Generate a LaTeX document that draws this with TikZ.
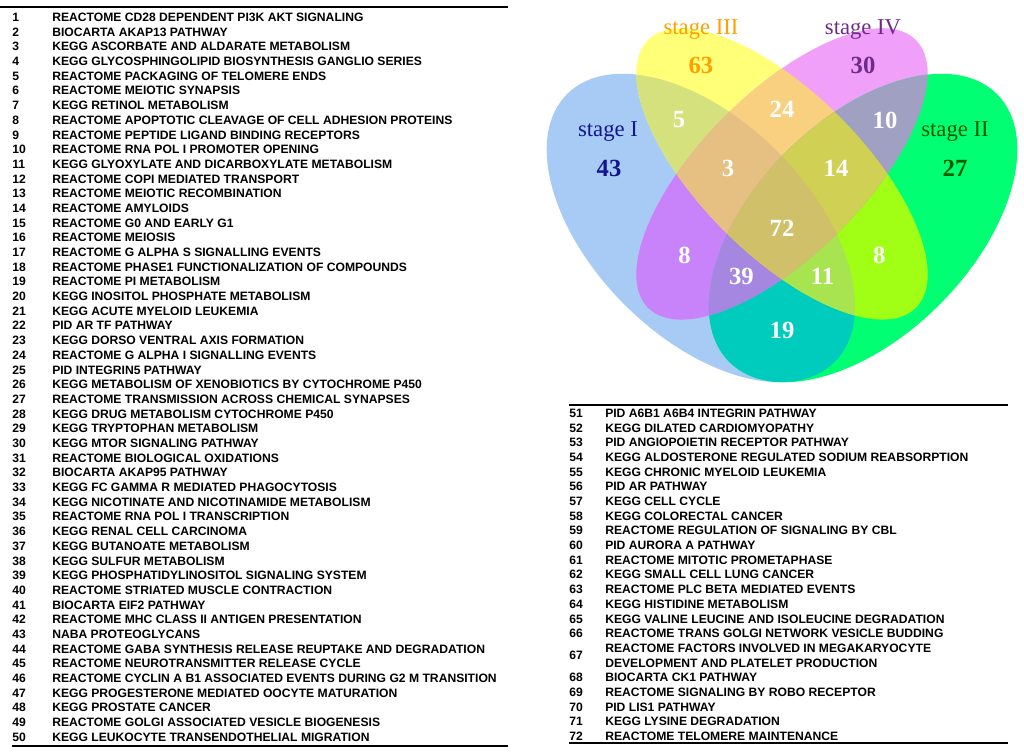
\documentclass[tikz,border=0pt]{standalone}
\usepackage{fontspec}
\setmainfont{Liberation Serif}
\newfontfamily\listfont{Liberation Sans}
\definecolor{cBl}{HTML}{A8CBF5}
\definecolor{cYe}{HTML}{FFFF78}
\definecolor{cPu}{HTML}{F0A0F8}
\definecolor{cGr}{HTML}{00FF72}
\definecolor{cBY}{HTML}{D4E17D}
\definecolor{cBP}{HTML}{C882FA}
\definecolor{cBG}{HTML}{00CCBE}
\definecolor{cYP}{HTML}{F9D080}
\definecolor{cYG}{HTML}{A0FF14}
\definecolor{cPG}{HTML}{A0A0C3}
\definecolor{cBYP}{HTML}{E6C082}
\definecolor{cBYG}{HTML}{A8E450}
\definecolor{cBPG}{HTML}{A587E1}
\definecolor{cYPG}{HTML}{D0D055}
\definecolor{cAll}{HTML}{D0C069}
\definecolor{labI}{HTML}{14148C}
\definecolor{labII}{HTML}{005A00}
\definecolor{labIII}{HTML}{FFA000}
\definecolor{labIV}{HTML}{6E2A8C}
\newcommand{\shB}{(700.9,228) ellipse [x radius=142pt, y radius=81.15pt]}
\newcommand{\shY}{(782,173.9) ellipse [x radius=142pt, y radius=60.86pt]}
\newcommand{\shP}{(782,173.9) ellipse [x radius=142pt, y radius=60.86pt]}
\newcommand{\shG}{(863.1,228) ellipse [x radius=142pt, y radius=81.15pt]}
\tikzset{
  rB/.style={rotate around={-45:(700.9,228)}},
  rY/.style={rotate around={-45:(782,173.9)}},
  rP/.style={rotate around={45:(782,173.9)}},
  rG/.style={rotate around={45:(863.1,228)}},
  lst/.style={font=\listfont\bfseries\fontsize{9.1}{11}\selectfont, anchor=base west, inner sep=0pt},
  rule/.style={line width=1.3pt},
  vnum/.style={font=\bfseries\fontsize{18.5}{20}\selectfont, text=white, inner sep=0pt},
  slab/.style={font=\fontsize{17}{18}\selectfont, anchor=base, inner sep=0pt},
  snum/.style={font=\bfseries\fontsize{18.5}{20}\selectfont, inner sep=0pt}
}
\begin{document}
\begin{tikzpicture}[x=0.75pt,y=-0.75pt]
\useasboundingbox (0,0) rectangle (1024,755);
% ---------- Venn regions ----------
\fill[cBl,rB] \shB;
\fill[cYe,rY] \shY;
\fill[cPu,rP] \shP;
\fill[cGr,rG] \shG;
% pairs
\begin{scope}\clip[rB] \shB; \fill[cBY,rY] \shY; \end{scope}
\begin{scope}\clip[rB] \shB; \fill[cBP,rP] \shP; \end{scope}
\begin{scope}\clip[rB] \shB; \fill[cBG,rG] \shG; \end{scope}
\begin{scope}\clip[rY] \shY; \fill[cYP,rP] \shP; \end{scope}
\begin{scope}\clip[rY] \shY; \fill[cYG,rG] \shG; \end{scope}
\begin{scope}\clip[rP] \shP; \fill[cPG,rG] \shG; \end{scope}
% triples
\begin{scope}\clip[rB] \shB; \clip[rY] \shY; \fill[cBYP,rP] \shP; \end{scope}
\begin{scope}\clip[rB] \shB; \clip[rY] \shY; \fill[cBYG,rG] \shG; \end{scope}
\begin{scope}\clip[rB] \shB; \clip[rP] \shP; \fill[cBPG,rG] \shG; \end{scope}
\begin{scope}\clip[rY] \shY; \clip[rP] \shP; \fill[cYPG,rG] \shG; \end{scope}
% all four
\begin{scope}\clip[rB] \shB; \clip[rY] \shY; \clip[rP] \shP; \fill[cAll,rG] \shG; \end{scope}
% ---------- Venn labels ----------
\node[slab,text=labI] (sI) at (608,137) {stage I};
\node[slab,text=labII] (sII) at (955,137) {stage II};
\node[slab,text=labIII] (sIII) at (701,35) {stage III};
\node[slab,text=labIV] (sIV) at (863,35) {stage IV};
\node[snum,text=labI] (v43) at (609,168.5) {43};
\node[snum,text=labII] (v27) at (955,168.5) {27};
\node[snum,text=labIII] (v63) at (700.9,65.7) {63};
\node[snum,text=labIV] (v30) at (863,65.7) {30};
\node[vnum] (v24) at (782,109) {24};
\node[vnum] (v5) at (679,120) {5};
\node[vnum] (v10) at (885,120) {10};
\node[vnum] (v3) at (728,168.5) {3};
\node[vnum] (v14) at (836,168.5) {14};
\node[vnum] (v72) at (782,228) {72};
\node[vnum] (v8a) at (684.6,255) {8};
\node[vnum] (v8b) at (879.4,255) {8};
\node[vnum] (v39) at (741.4,276.7) {39};
\node[vnum] (v11) at (822.6,276.7) {11};
\node[vnum] (v19) at (782,330.8) {19};
% ---------- left list ----------
\draw[rule] (0,7) -- (508,7);
\draw[rule] (12,746) -- (508,746);
\foreach \n/\t [count=\k from 0] in {
1/REACTOME CD28 DEPENDENT PI3K AKT SIGNALING,
2/BIOCARTA AKAP13 PATHWAY,
3/KEGG ASCORBATE AND ALDARATE METABOLISM,
4/KEGG GLYCOSPHINGOLIPID BIOSYNTHESIS GANGLIO SERIES,
5/REACTOME PACKAGING OF TELOMERE ENDS,
6/REACTOME MEIOTIC SYNAPSIS,
7/KEGG RETINOL METABOLISM,
8/REACTOME APOPTOTIC CLEAVAGE OF CELL ADHESION PROTEINS,
9/REACTOME PEPTIDE LIGAND BINDING RECEPTORS,
10/REACTOME RNA POL I PROMOTER OPENING,
11/KEGG GLYOXYLATE AND DICARBOXYLATE METABOLISM,
12/REACTOME COPI MEDIATED TRANSPORT,
13/REACTOME MEIOTIC RECOMBINATION,
14/REACTOME AMYLOIDS,
15/REACTOME G0 AND EARLY G1,
16/REACTOME MEIOSIS,
17/REACTOME G ALPHA S SIGNALLING EVENTS,
18/REACTOME PHASE1 FUNCTIONALIZATION OF COMPOUNDS,
19/REACTOME PI METABOLISM,
20/KEGG INOSITOL PHOSPHATE METABOLISM,
21/KEGG ACUTE MYELOID LEUKEMIA,
22/PID AR TF PATHWAY,
23/KEGG DORSO VENTRAL AXIS FORMATION,
24/REACTOME G ALPHA I SIGNALLING EVENTS,
25/PID INTEGRIN5 PATHWAY,
26/KEGG METABOLISM OF XENOBIOTICS BY CYTOCHROME P450,
27/REACTOME TRANSMISSION ACROSS CHEMICAL SYNAPSES,
28/KEGG DRUG METABOLISM CYTOCHROME P450,
29/KEGG TRYPTOPHAN METABOLISM,
30/KEGG MTOR SIGNALING PATHWAY,
31/REACTOME BIOLOGICAL OXIDATIONS,
32/BIOCARTA AKAP95 PATHWAY,
33/KEGG FC GAMMA R MEDIATED PHAGOCYTOSIS,
34/KEGG NICOTINATE AND NICOTINAMIDE METABOLISM,
35/REACTOME RNA POL I TRANSCRIPTION,
36/KEGG RENAL CELL CARCINOMA,
37/KEGG BUTANOATE METABOLISM,
38/KEGG SULFUR METABOLISM,
39/KEGG PHOSPHATIDYLINOSITOL SIGNALING SYSTEM,
40/REACTOME STRIATED MUSCLE CONTRACTION,
41/BIOCARTA EIF2 PATHWAY,
42/REACTOME MHC CLASS II ANTIGEN PRESENTATION,
43/NABA PROTEOGLYCANS,
44/REACTOME GABA SYNTHESIS RELEASE REUPTAKE AND DEGRADATION,
45/REACTOME NEUROTRANSMITTER RELEASE CYCLE,
46/REACTOME CYCLIN A B1 ASSOCIATED EVENTS DURING G2 M TRANSITION,
47/KEGG PROGESTERONE MEDIATED OOCYTE MATURATION,
48/KEGG PROSTATE CANCER,
49/REACTOME GOLGI ASSOCIATED VESICLE BIOGENESIS,
50/KEGG LEUKOCYTE TRANSENDOTHELIAL MIGRATION}
{
  \node[lst] (n\n) at (12,{21.5+\k*14.69}) {\n};
  \node[lst] (t\n) at (52,{21.5+\k*14.69}) {\t};
}
% ---------- right list ----------
\draw[rule] (569,405) -- (1008,405);
\draw[rule] (569,743) -- (1008,743);
\foreach \n/\k/\t in {
51/0/PID A6B1 A6B4 INTEGRIN PATHWAY,
52/1/KEGG DILATED CARDIOMYOPATHY,
53/2/PID ANGIOPOIETIN RECEPTOR PATHWAY,
54/3/KEGG ALDOSTERONE REGULATED SODIUM REABSORPTION,
55/4/KEGG CHRONIC MYELOID LEUKEMIA,
56/5/PID AR PATHWAY,
57/6/KEGG CELL CYCLE,
58/7/KEGG COLORECTAL CANCER,
59/8/REACTOME REGULATION OF SIGNALING BY CBL,
60/9/PID AURORA A PATHWAY,
61/10/REACTOME MITOTIC PROMETAPHASE,
62/11/KEGG SMALL CELL LUNG CANCER,
63/12/REACTOME PLC BETA MEDIATED EVENTS,
64/13/KEGG HISTIDINE METABOLISM,
65/14/KEGG VALINE LEUCINE AND ISOLEUCINE DEGRADATION,
66/15/REACTOME TRANS GOLGI NETWORK VESICLE BUDDING,
68/18/BIOCARTA CK1 PATHWAY,
69/19/REACTOME SIGNALING BY ROBO RECEPTOR,
70/20/PID LIS1 PATHWAY,
71/21/KEGG LYSINE DEGRADATION,
72/22/REACTOME TELOMERE MAINTENANCE}
{
  \node[lst] (n\n) at (569,{417.5+\k*14.68}) {\n};
  \node[lst] (t\n) at (605,{417.5+\k*14.68}) {\t};
}
\node[lst] (n67) at (569,{417.5+16.5*14.68}) {67};
\node[lst] (t67a) at (605,{417.5+16*14.68}) {REACTOME FACTORS INVOLVED IN MEGAKARYOCYTE};
\node[lst] (t67b) at (605,{417.5+17*14.68}) {DEVELOPMENT AND PLATELET PRODUCTION};
\end{tikzpicture}
\end{document}
